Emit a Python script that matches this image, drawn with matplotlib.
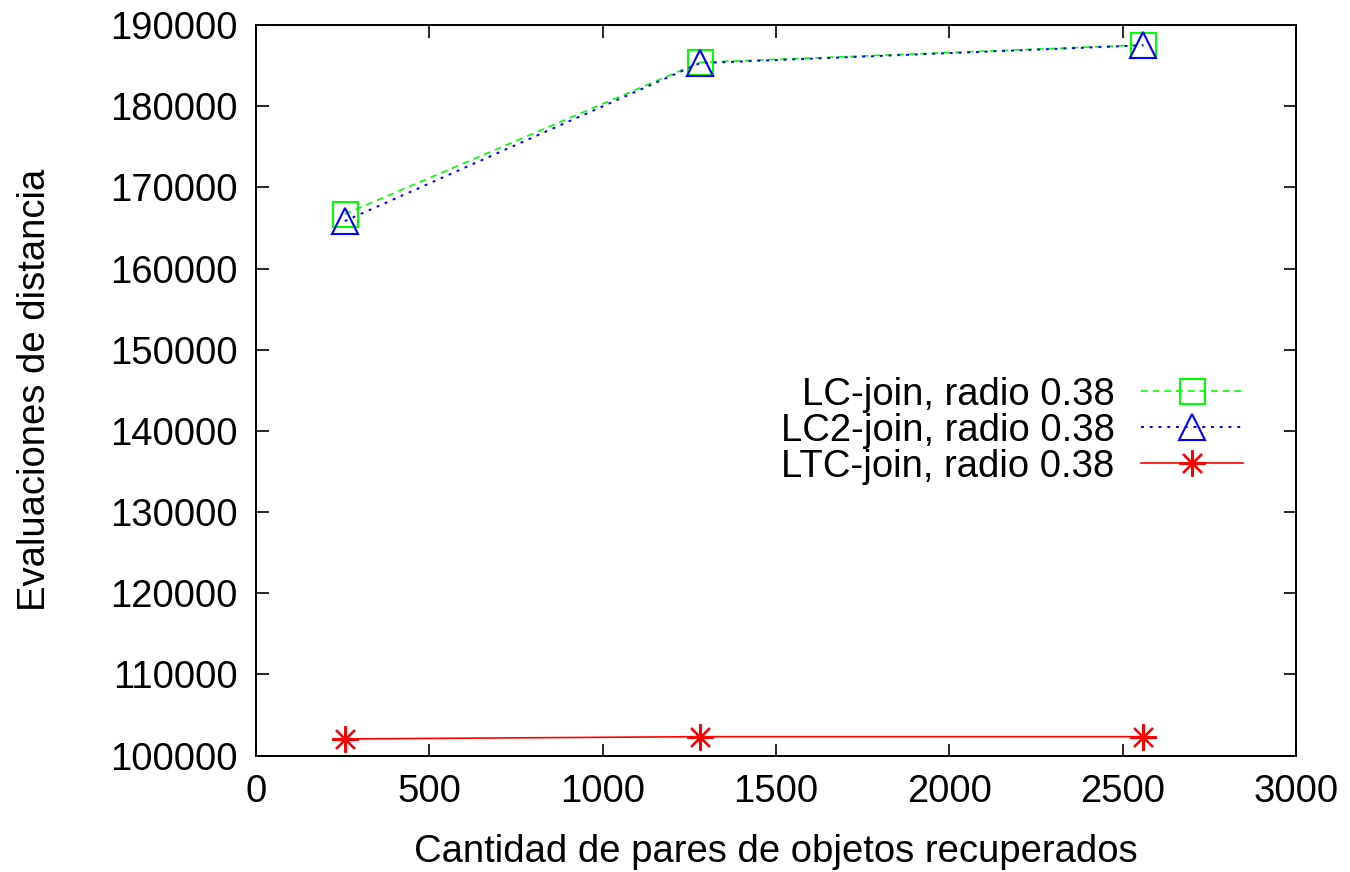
import matplotlib.pyplot as plt
from matplotlib.ticker import MultipleLocator

plt.rcParams['font.family'] = ['Liberation Sans', 'DejaVu Sans']

# pares recuperados y evaluaciones de distancia por algoritmo
pares = [256, 1280, 2560]
lc_join = [166700, 185400, 187550]
lc2_join = [165850, 185300, 187500]
ltc_join = [102060, 102340, 102340]

etiquetas = ['LC-join, radio 0.38', 'LC2-join, radio 0.38', 'LTC-join, radio 0.38']

fs = 27.5

fig = plt.figure(figsize=(13.5, 8.72), dpi=100)
ax = fig.add_axes([0.1896, 0.1334, 0.7704, 0.8379])

ax.plot(pares, lc_join, color='#00ff00', linestyle=(0, (4, 3)), linewidth=1.2,
        marker='s', markersize=18, markerfacecolor='none', markeredgewidth=1.5,
        label=etiquetas[0])
ax.plot(pares, lc2_join, color='#0000ff', linestyle=(0, (1.5, 3)), linewidth=1.4,
        marker='^', markersize=19, markerfacecolor='none', markeredgewidth=1.5,
        label=etiquetas[1])
ax.plot(pares, ltc_join, color='#ff0000', linestyle='-', linewidth=1.2,
        marker=(8, 2, 0), markersize=19, markeredgewidth=1.6,
        label=etiquetas[2])

ax.set_xlim(0, 3000)
ax.set_ylim(100000, 190000)
ax.xaxis.set_major_locator(MultipleLocator(500))
ax.yaxis.set_major_locator(MultipleLocator(10000))
ax.tick_params(direction='in', length=9, width=1.2, labelsize=fs,
               top=True, right=True)
ax.tick_params(axis='x', pad=13)
ax.tick_params(axis='y', pad=13)
for s in ax.spines.values():
    s.set_linewidth(1.4)

ax.set_xlabel('Cantidad de pares de objetos recuperados', fontsize=fs, va='center')
ax.set_ylabel('Evaluaciones de distancia', fontsize=fs, va='center')
ax.xaxis.set_label_coords(0.5, -0.132)
ax.yaxis.set_label_coords(-0.2125, 0.5)

ax.legend(loc='upper right', bbox_to_anchor=(0.967, 0.545), frameon=False,
          markerfirst=False, fontsize=fs, handlelength=2.65, labelspacing=0.0,
          handletextpad=0.7, borderpad=0)

fig.savefig('out.png', dpi=100)
